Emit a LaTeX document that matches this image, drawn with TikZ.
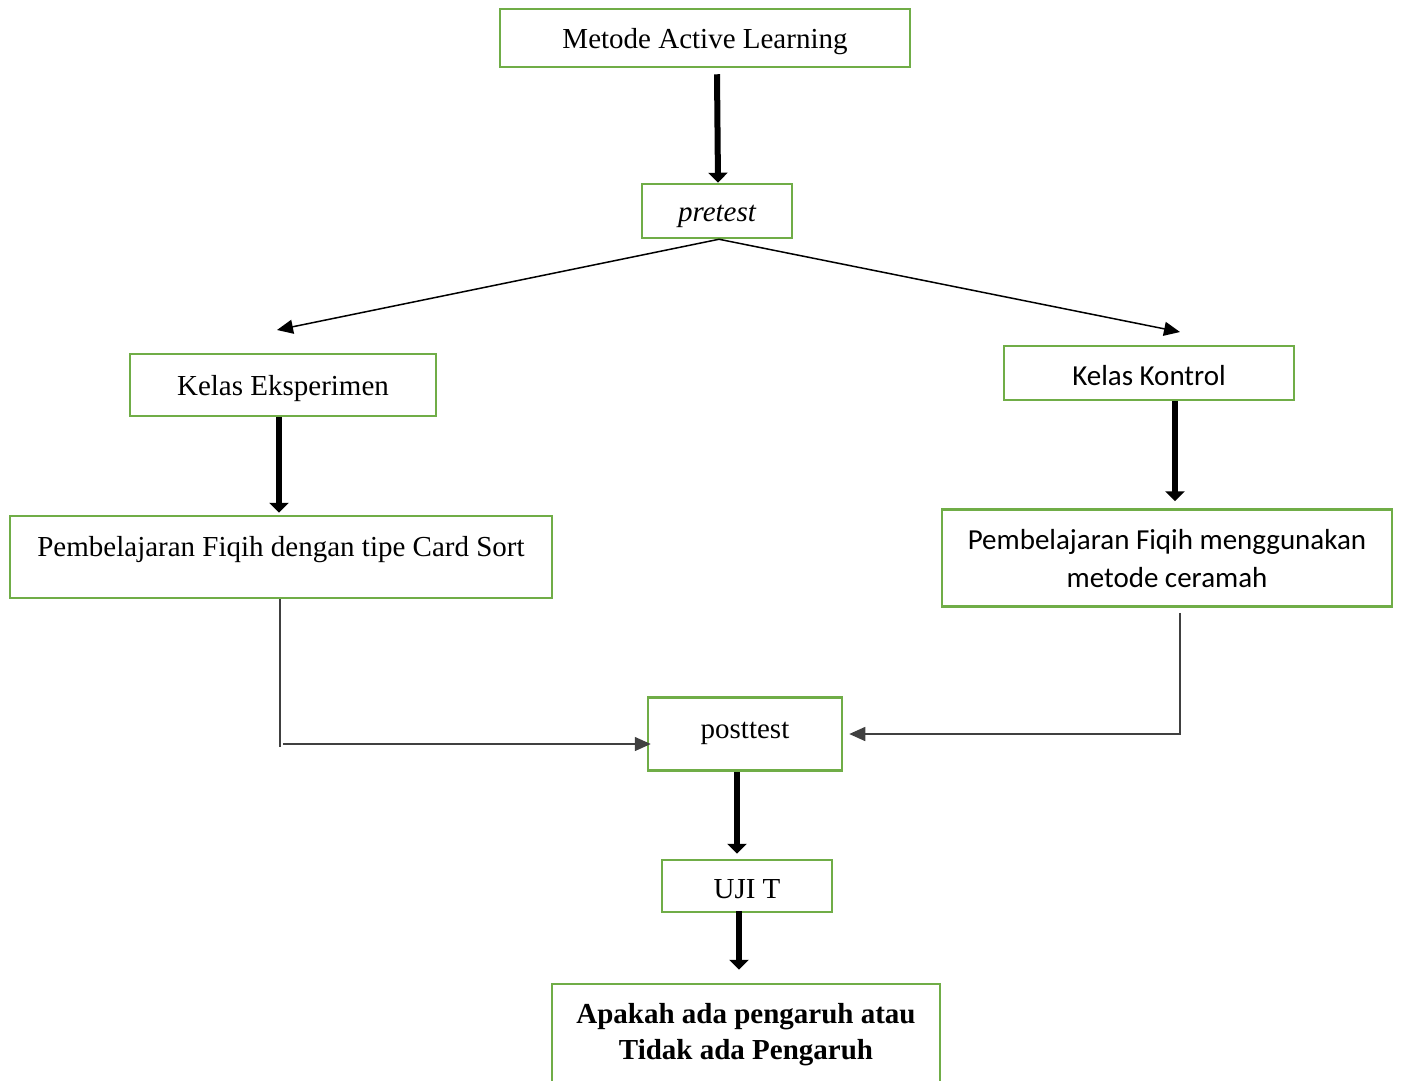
\documentclass[tikz,border=0pt]{standalone}
\usepackage{fontspec}
\setmainfont{Liberation Serif}
\newfontfamily\calibri{Carlito}
\usepackage{xcolor}
\usetikzlibrary{arrows.meta}
\definecolor{boxgreen}{RGB}{112,173,71}

\begin{document}
\begin{tikzpicture}[x=1pt, y=-1pt,
    box/.style={draw=boxgreen, line width=2.5pt, fill=white, inner sep=0pt,
                align=center, text height=26pt, text depth=6pt,
                font=\fontsize{29}{38}\selectfont},
    thickarrow/.style={line width=6pt, -{Triangle[width=19pt,length=10pt]}},
    thinarrow/.style={line width=1.5pt, -{Triangle[width=14pt,length=16pt]}},
    thinline/.style={line width=1.5pt, draw=black!75}]

% Bidang gambar
\useasboundingbox (0,0) rectangle (1402,1080);
\clip (0,0) rectangle (1402,1080);

% Metode
\node[box, minimum width=410pt, minimum height=58pt] (metode) at (705,38) {Metode Active Learning};

% Pretest
\node[box, minimum width=150pt, minimum height=54pt, font=\fontsize{29}{38}\selectfont\itshape] (pretest) at (717,211) {pretest};

% Kelas eksperimen dan kelas kontrol
\node[box, minimum width=306pt, minimum height=62pt] (eksperimen) at (283,385) {Kelas Eksperimen};
\node[box, minimum width=290pt, minimum height=54pt, text height=30pt, font=\fontsize{29}{38}\calibri] (kontrol) at (1149,373) {Kelas Kontrol};

% Perlakuan
\node[box, minimum width=542pt, minimum height=82pt, text depth=28pt] (cardsort) at (281,557) {Pembelajaran Fiqih dengan tipe Card Sort};
\node[box, minimum width=450pt, minimum height=97pt, text height=62pt, text depth=4pt, font=\fontsize{29}{38}\calibri] (ceramah) at (1167,558) {Pembelajaran Fiqih menggunakan\\metode ceramah};

% Posttest
\node[box, minimum width=194pt, minimum height=73pt, text depth=18pt] (posttest) at (745,734) {posttest};

% Uji T
\node[box, minimum width=170pt, minimum height=52pt, text height=30pt] (ujit) at (747,886) {UJI T};

% Kesimpulan (terpotong di bawah)
\node[box, minimum width=388pt, minimum height=120pt, text height=60pt, text depth=30pt, font=\fontsize{29}{36}\selectfont\bfseries] (hasil) at (746,1044) {Apakah ada pengaruh atau\\Tidak ada Pengaruh};

% Ujung panah bebas
\coordinate (tipkiri) at (277,330);
\coordinate (tipkanan) at (1180,332);

% Panah tebal
\draw[thickarrow] ([yshift=-6pt]pretest.north |- metode.south) -- ([xshift=1pt]pretest.north);
\draw[thickarrow] ([xshift=-2pt]cardsort.north |- eksperimen.south) -- ([xshift=-2pt,yshift=2pt]cardsort.north);
\draw[thickarrow] ([xshift=26pt]kontrol.south) -- ([xshift=8pt,yshift=7pt]ceramah.north);
\draw[thickarrow] ([xshift=-8pt]posttest.south) -- ([xshift=-10pt,yshift=5pt]ujit.north);
\draw[thickarrow] ([xshift=-8pt,yshift=2pt]ujit.south) -- ([xshift=-7pt,yshift=13pt]hasil.north);

% Panah tipis dari pretest
\draw[thinarrow] ([xshift=2pt]pretest.south) -- (tipkiri);
\draw[thinarrow] ([xshift=2pt]pretest.south) -- (tipkanan);

% Menuju posttest
\draw[thinline] ([xshift=-1pt]cardsort.south) -- ++(0,148);
\draw[thinline, thinarrow] ([xshift=-364pt,yshift=-10pt]posttest.west) -- ([xshift=4pt,yshift=-10pt]posttest.west);
\draw[thinline, thinarrow] ([xshift=13pt,yshift=-5pt]ceramah.south) |- ([xshift=6pt]posttest.east);

\end{tikzpicture}
\end{document}
